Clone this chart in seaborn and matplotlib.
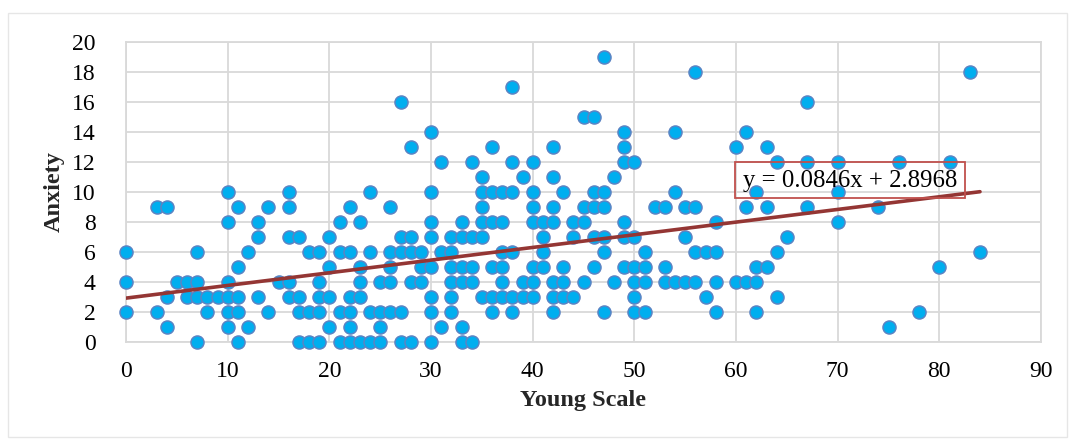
import numpy as np
import pandas as pd
import seaborn as sns
import matplotlib.pyplot as plt
from matplotlib.patches import Rectangle

# Young Scale values at each Anxiety level
at_0 = [7, 11, 17, 18, 19, 21, 22, 23, 24, 25, 27, 28, 30, 33, 34]
at_1 = [4, 10, 12, 20, 22, 25, 31, 33, 75]
at_2 = [0, 3, 8, 10, 11, 14, 17, 18, 19, 21, 22, 24, 25, 26, 27, 30, 32, 36, 38, 42, 47, 50, 51, 58, 62, 78]
at_3 = [4, 6, 7, 8, 9, 10, 11, 13, 16, 17, 19, 20, 22, 23, 30, 32, 35, 36, 37, 38, 39, 40, 42, 43, 44, 50, 57, 64]
at_4 = [0, 5, 6, 7, 10, 15, 16, 19, 23, 25, 26, 28, 29, 32, 33, 34, 37, 39, 40, 42, 43, 45, 48, 50, 51, 53, 54, 55, 56, 58, 60, 61, 62]
at_5 = [11, 20, 23, 26, 29, 30, 32, 33, 34, 36, 37, 40, 41, 43, 46, 49, 50, 51, 53, 62, 63, 80]
at_6 = [0, 7, 12, 18, 19, 21, 22, 24, 26, 27, 28, 29, 31, 32, 37, 38, 41, 47, 51, 56, 57, 58, 64, 84]
at_7 = [13, 16, 17, 20, 27, 28, 30, 32, 33, 34, 35, 41, 44, 46, 47, 49, 50, 55, 65]
at_8 = [10, 13, 21, 23, 30, 33, 35, 36, 37, 40, 41, 42, 44, 45, 49, 58, 70]
at_9 = [3, 4, 11, 14, 16, 22, 26, 35, 40, 42, 45, 46, 47, 52, 53, 55, 56, 61, 63, 67, 74]
at_10 = [10, 16, 24, 30, 35, 36, 37, 38, 40, 43, 46, 47, 54, 62, 70]
at_11 = [35, 39, 42, 48]
at_12 = [31, 34, 38, 40, 49, 50, 64, 67, 70, 76, 81]
at_13 = [28, 36, 42, 49, 60, 63]
at_14 = [30, 49, 54, 61]
at_15 = [45, 46]
at_16 = [27, 67]
at_17 = [38]
at_18 = [56, 83]
at_19 = [47]

levels = [at_0, at_1, at_2, at_3, at_4, at_5, at_6, at_7, at_8, at_9,
          at_10, at_11, at_12, at_13, at_14, at_15, at_16, at_17, at_18, at_19]

trend_x = [0, 84]
trend_y = [2.8968, 10.0032]
equation = 'y = 0.0846x + 2.8968'

rows = []
for anxiety, xs in enumerate(levels):
    for x in xs:
        rows.append((x, anxiety))
df = pd.DataFrame(rows, columns=['Young Scale', 'Anxiety'])

sns.set_style('white')
plt.rcParams['font.family'] = ['Liberation Serif', 'DejaVu Serif']

fig = plt.figure(figsize=(10.75, 4.46), dpi=100)
w, h = 1075, 446
ax = fig.add_axes([126 / w, 1 - 341.5 / h, 915 / w, 299.5 / h])

sns.scatterplot(data=df, x='Young Scale', y='Anxiety', ax=ax, s=88, color='#00aeef',
                edgecolor='#5b84c4', linewidth=1.1, clip_on=False, zorder=3)
sns.lineplot(x=trend_x, y=trend_y, ax=ax, color='#943634', linewidth=2.6, zorder=4)

ax.set_xlim(0, 90)
ax.set_ylim(0, 20)
ax.set_xticks(range(0, 91, 10))
ax.set_yticks(range(0, 21, 2))
ax.grid(True, color='#d9d9d9', linewidth=1.3)
ax.set_axisbelow(True)
for side in ax.spines.values():
    side.set_color('#d9d9d9')
    side.set_linewidth(1.3)
ax.tick_params(axis='x', labelsize=17, length=0, pad=14, colors='black')
ax.tick_params(axis='y', labelsize=17, length=0, pad=22, colors='black')
ax.set_xlabel('Young Scale', fontsize=17.5, fontweight='bold', labelpad=6)
ax.set_ylabel('Anxiety', fontsize=17.5, fontweight='bold', labelpad=5)

# equation box of the trendline
ax.text(60.7, 10.75, equation, fontsize=17.8, ha='left', va='center', color='black', zorder=6)
ax.add_patch(Rectangle((59.9, 9.57), 22.6, 2.39, fill=False, edgecolor='#c0504d', linewidth=1.3, zorder=5))

# frame around the whole chart
fig.add_artist(Rectangle((8 / w, 1 - 437 / h), 1059 / w, 424 / h, transform=fig.transFigure,
                         fill=False, edgecolor='#e6e6e6', linewidth=1))

fig.savefig('out.png', dpi=100)
